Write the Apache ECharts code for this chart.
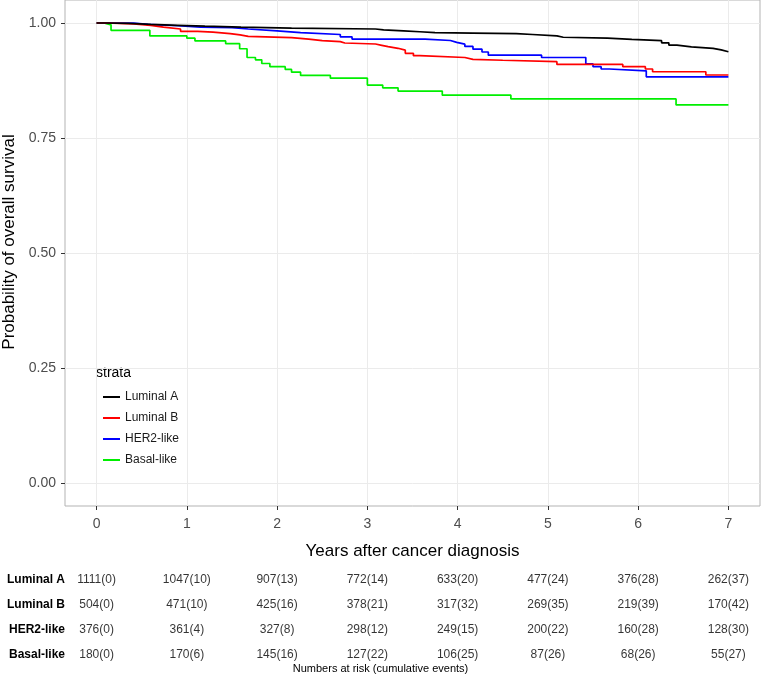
<!DOCTYPE html>
<html>
<head>
<meta charset="utf-8">
<script src="https://cdn.jsdelivr.net/npm/echarts@6/dist/echarts.min.js"></script>
<style>
  html, body { margin: 0; padding: 0; background: #fff; }
  #chart { width: 761px; height: 678px; }
</style>
</head>
<body>
<div id="chart"></div>
<script>
// survival curves (time in years, survival prob)
var lumA_t = [0, 0.10, 0.35, 0.60, 0.90, 1.20, 1.60, 2.16, 3.09, 3.18, 3.40, 3.58, 3.75, 4.17, 4.65, 4.83, 5.10, 5.17, 5.66, 5.93, 6.26, 6.34, 6.43, 6.59, 6.83, 6.92, 7.00];
var lumA_s = [1, 0.999, 0.997, 0.995, 0.993, 0.991, 0.989, 0.987, 0.985, 0.983, 0.981, 0.979, 0.978, 0.977, 0.975, 0.972, 0.969, 0.967, 0.9645, 0.9615, 0.957, 0.952, 0.948, 0.945, 0.9415, 0.9375, 0.9375];

var lumB_t = [0, 0.10, 0.41, 0.60, 0.74, 0.93, 1.12, 1.29, 1.48, 1.59, 1.68, 2.16, 2.35, 2.50, 2.70, 2.75, 3.09, 3.16, 3.23, 3.34, 3.42, 3.51, 3.58, 4.08, 4.17, 4.50, 5.10, 5.83, 6.08, 6.16, 6.75, 7.00];
var lumB_s = [1, 0.998, 0.995, 0.991, 0.987, 0.982, 0.980, 0.977, 0.974, 0.971, 0.968, 0.965, 0.9615, 0.9595, 0.9565, 0.9543, 0.9514, 0.9485, 0.945, 0.941, 0.934, 0.929, 0.925, 0.921, 0.919, 0.916, 0.910, 0.905, 0.900, 0.894, 0.887, 0.887];

var her2_t = [0, 0.41, 0.57, 0.90, 1.15, 1.50, 1.68, 2.00, 2.26, 2.70, 2.83, 3.64, 3.92, 3.99, 4.08, 4.17, 4.27, 4.34, 4.93, 5.42, 5.50, 5.59, 5.68, 6.09, 7.00];
var her2_s = [1, 0.997, 0.994, 0.991, 0.990, 0.987, 0.983, 0.979, 0.975, 0.970, 0.965, 0.962, 0.958, 0.954, 0.949, 0.943, 0.937, 0.930, 0.925, 0.911, 0.905, 0.900, 0.896, 0.883, 0.883];

var basal_t = [0, 0.08, 0.16, 0.59, 1.00, 1.09, 1.43, 1.585, 1.667, 1.76, 1.83, 1.92, 2.09, 2.16, 2.26, 2.59, 3.00, 3.17, 3.34, 3.83, 4.59, 6.42, 7.00];
var basal_s = [1, 0.996, 0.984, 0.972, 0.967, 0.961, 0.955, 0.944, 0.925, 0.920, 0.912, 0.905, 0.899, 0.893, 0.886, 0.880, 0.865, 0.859, 0.852, 0.843, 0.835, 0.822, 0.822];

var strata = ['Luminal A', 'Luminal B', 'HER2-like', 'Basal-like'];
var strataColors = ['#000000', '#ff0000', '#0000ff', '#00ee00'];

var xTicks = [0, 1, 2, 3, 4, 5, 6, 7];
var yTicks = [0, 0.25, 0.5, 0.75, 1];

// numbers at risk table
var riskTimes = [0, 1, 2, 3, 4, 5, 6, 7];
var lumA_risk = [1111, 1047, 907, 772, 633, 477, 376, 262];
var lumA_ev = [0, 10, 13, 14, 20, 24, 28, 37];
var lumB_risk = [504, 471, 425, 378, 317, 269, 219, 170];
var lumB_ev = [0, 10, 16, 21, 32, 35, 39, 42];
var her2_risk = [376, 361, 327, 298, 249, 200, 160, 128];
var her2_ev = [0, 4, 8, 12, 15, 22, 28, 30];
var basal_risk = [180, 170, 145, 127, 106, 87, 68, 55];
var basal_ev = [0, 6, 16, 22, 25, 26, 26, 27];

var FONT = '"Liberation Sans", Arial, sans-serif';

function pairs(t, s) {
    return t.map(function (v, i) { return [v, s[i]]; });
}

var curves = [pairs(lumA_t, lumA_s), pairs(lumB_t, lumB_s), pairs(her2_t, her2_s), pairs(basal_t, basal_s)];
var risks = [[lumA_risk, lumA_ev], [lumB_risk, lumB_ev], [her2_risk, her2_ev], [basal_risk, basal_ev]];

var series = [];
curves.forEach(function (d, i) {
    series.push({
        name: strata[i],
        type: 'line',
        step: 'end',
        xAxisIndex: 0,
        yAxisIndex: 0,
        showSymbol: false,
        symbol: 'none',
        color: strataColors[i],
        lineStyle: { width: 1.7, color: strataColors[i] },
        data: d,
        z: 10 - i
    });
});

risks.forEach(function (r, i) {
    series.push({
        type: 'scatter',
        xAxisIndex: 1,
        yAxisIndex: 1,
        symbolSize: 0.1,
        itemStyle: { color: 'rgba(0,0,0,0)' },
        silent: true,
        label: {
            show: true,
            position: 'inside',
            fontFamily: FONT,
            fontSize: 12,
            color: '#000',
            formatter: function (p) { return p.value[2]; }
        },
        data: riskTimes.map(function (t, j) {
            return [t, strata[i], r[0][j] + '(' + r[1][j] + ')'];
        })
    });
});

var chart = echarts.init(document.getElementById('chart'));
chart.setOption({
    backgroundColor: '#fff',
    animation: false,
    grid: [
        { left: 65, right: 1, top: 0, bottom: 172, containLabel: false, outerBoundsMode: 'none',
          show: true, borderColor: '#b3b3b3', borderWidth: 1, backgroundColor: '#fff' },
        { left: 65, right: 1, top: 567.5, height: 100, containLabel: false, outerBoundsMode: 'none' }
    ],
    xAxis: [
        {
            type: 'value', gridIndex: 0, min: -0.35, max: 7.35,
            axisLine: { show: false, onZero: false },
            axisTick: { show: true, customValues: xTicks, length: 4, lineStyle: { color: '#333' } },
            axisLabel: { customValues: xTicks, margin: 11, fontFamily: FONT, fontSize: 14, color: '#4d4d4d' },
            splitLine: { show: true, lineStyle: { color: '#ebebeb', width: 1 } },
            name: 'Years after cancer diagnosis',
            nameLocation: 'middle',
            nameGap: 37,
            nameTextStyle: { fontFamily: FONT, fontSize: 17, color: '#000' }
        },
        {
            type: 'value', gridIndex: 1, min: -0.35, max: 7.35, show: false
        }
    ],
    yAxis: [
        {
            type: 'value', gridIndex: 0, min: -0.05, max: 1.05,
            axisLine: { show: false, onZero: false },
            axisTick: { show: true, customValues: yTicks, length: 4, lineStyle: { color: '#333' } },
            axisLabel: {
                customValues: yTicks, margin: 9, fontFamily: FONT, fontSize: 14, color: '#4d4d4d',
                formatter: function (v) { return v.toFixed(2); }
            },
            splitLine: { show: true, lineStyle: { color: '#ebebeb', width: 1 } },
            name: 'Probability of overall survival',
            nameLocation: 'middle',
            nameGap: 40,
            nameTextStyle: { fontFamily: FONT, fontSize: 17, color: '#000', padding: [0, 0, 0, 22] }
        },
        {
            type: 'category', gridIndex: 1, data: strata, inverse: true,
            axisLine: { show: false, onZero: false },
            axisTick: { show: false },
            splitLine: { show: false },
            axisLabel: { margin: 0, fontFamily: FONT, fontSize: 12, fontWeight: 'bold', color: '#000' }
        }
    ],
    legend: {
        data: strata,
        orient: 'vertical',
        left: 98,
        top: 386,
        icon: 'rect',
        itemWidth: 17,
        itemHeight: 2,
        itemGap: 9,
        textStyle: { fontFamily: FONT, fontSize: 12, color: '#1a1a1a' }
    },
    graphic: [
        {
            type: 'text', left: 96, top: 366,
            style: { text: 'strata', fontFamily: FONT, fontSize: 14, fill: '#000' }
        },
        {
            type: 'text', left: 'center', top: 663,
            style: { text: 'Numbers at risk (cumulative events)', fontFamily: FONT, fontSize: 11, fill: '#000' }
        }
    ],
    series: series
});
</script>
</body>
</html>
